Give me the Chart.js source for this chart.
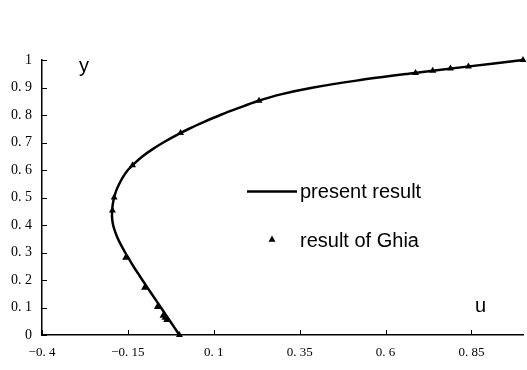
<!DOCTYPE html>
<html>
<head>
<meta charset="utf-8">
<script src="https://cdn.jsdelivr.net/npm/chart.js@4/dist/chart.umd.min.js"></script>
<style>
  html, body { margin: 0; padding: 0; background: #fff; }
  #wrap { width: 527px; height: 370px; }
</style>
</head>
<body>
<div id="wrap"><canvas id="c" width="527" height="370"></canvas></div>
<script>
// Centre-line u velocity profile (u along x, height y)
const presentY = [0.00, 0.05, 0.10, 0.15, 0.20, 0.225, 0.25, 0.275, 0.30, 0.325, 0.35, 0.375, 0.40, 0.425, 0.45, 0.475, 0.50, 0.525, 0.55, 0.575, 0.60, 0.625, 0.65, 0.675, 0.70, 0.725, 0.75, 0.775, 0.80, 0.825, 0.85, 0.875, 0.90, 0.925, 0.95, 0.975, 1.00];
const presentU = [0.000, -0.027, -0.054, -0.081, -0.108, -0.121, -0.134, -0.146, -0.158, -0.169, -0.179, -0.187, -0.193, -0.196, -0.196, -0.194, -0.190, -0.184, -0.175, -0.164, -0.150, -0.130, -0.107, -0.079, -0.047, -0.011, 0.028, 0.072, 0.119, 0.171, 0.226, 0.295, 0.390, 0.515, 0.667, 0.831, 1.000];

const ghiaY = [1.0000, 0.9766, 0.9688, 0.9609, 0.9531, 0.8516, 0.7344, 0.6172, 0.5000, 0.4531, 0.2813, 0.1719, 0.1016, 0.0703, 0.0625, 0.0547, 0.0000];
const ghiaU = [1.00000, 0.84123, 0.78871, 0.73722, 0.68717, 0.23151, 0.00332, -0.13641, -0.190, -0.195, -0.15662, -0.10150, -0.06434, -0.04775, -0.04192, -0.03717, 0.00000];

const xTickValues = [-0.4, -0.15, 0.1, 0.35, 0.6, 0.85];
const xTickLabels = ['\u22120. 4', '\u22120. 15', '0. 1', '0. 35', '0. 6', '0. 85'];
const yTickValues = [0, 0.1, 0.2, 0.3, 0.4, 0.5, 0.6, 0.7, 0.8, 0.9, 1];
const yTickLabels = ['0', '0. 1', '0. 2', '0. 3', '0. 4', '0. 5', '0. 6', '0. 7', '0. 8', '0. 9', '1'];

const seriesNames = ['present result', 'result of Ghia'];
const axisNames = { x: 'u', y: 'y' };

const presentData = presentY.map((y, i) => ({ x: presentU[i], y }));
const ghiaData = ghiaY.map((y, i) => ({ x: ghiaU[i], y }));

const xTickFont = { family: '"Liberation Serif", "DejaVu Serif", serif', size: 13 };
const yTickFont = { family: '"Liberation Serif", "DejaVu Serif", serif', size: 14 };
const textFont = '20px "Liberation Sans", Arial, sans-serif';

// Short tick marks pointing into the plot area
const innerTicks = {
  id: 'innerTicks',
  afterDraw(chart) {
    const ctx = chart.ctx;
    const xs = chart.scales.x, ys = chart.scales.y;
    const area = chart.chartArea;
    ctx.save();
    ctx.strokeStyle = '#000';
    ctx.lineWidth = 1;
    xTickValues.forEach(v => {
      const px = Math.round(xs.getPixelForValue(v)) + 0.5;
      ctx.beginPath();
      ctx.moveTo(px, area.bottom);
      ctx.lineTo(px, area.bottom - 5);
      ctx.stroke();
    });
    yTickValues.forEach(v => {
      const py = Math.round(ys.getPixelForValue(v)) + 0.5;
      ctx.beginPath();
      ctx.moveTo(area.left, py);
      ctx.lineTo(area.left + 5, py);
      ctx.stroke();
    });
    ctx.restore();
  }
};

// Axis names and the legend box drawn inside the plot
const annotations = {
  id: 'annotations',
  afterDraw(chart) {
    const ctx = chart.ctx;
    ctx.save();
    ctx.fillStyle = '#000';
    ctx.font = textFont;
    ctx.textAlign = 'left';
    ctx.textBaseline = 'alphabetic';
    ctx.fillText(axisNames.y, 79, 72);
    ctx.fillText(axisNames.x, 475, 312);

    const lineDs = chart.data.datasets[0];
    const ptDs = chart.data.datasets[1];
    // line sample
    ctx.strokeStyle = lineDs.borderColor;
    ctx.lineWidth = lineDs.borderWidth;
    ctx.beginPath();
    ctx.moveTo(247, 191.5);
    ctx.lineTo(297, 191.5);
    ctx.stroke();
    ctx.textBaseline = 'middle';
    ctx.fillText(lineDs.label, 300, 192);
    // marker sample
    ctx.beginPath();
    const cx = 272, cy = 239, r = 3.5;
    ctx.moveTo(cx, cy - r);
    ctx.lineTo(cx + r, cy + r * 0.8);
    ctx.lineTo(cx - r, cy + r * 0.8);
    ctx.closePath();
    ctx.fillStyle = ptDs.backgroundColor;
    ctx.fill();
    ctx.fillStyle = '#000';
    ctx.fillText(ptDs.label, 300, 241);
    ctx.restore();
  }
};

new Chart(document.getElementById('c'), {
  type: 'scatter',
  data: {
    datasets: [
      {
        label: seriesNames[0],
        data: presentData,
        showLine: true,
        borderColor: '#000',
        borderWidth: 2.5,
        pointRadius: 0,
        tension: 0.3,
        fill: false,
        clip: false
      },
      {
        label: seriesNames[1],
        data: ghiaData,
        showLine: false,
        pointStyle: 'triangle',
        pointRadius: 4,
        backgroundColor: '#000',
        borderColor: '#000',
        borderWidth: 0,
        clip: false
      }
    ]
  },
  options: {
    responsive: false,
    animation: false,
    layout: { padding: { top: 60, right: 1, left: 0, bottom: 0 } },
    plugins: { legend: { display: false }, tooltip: { enabled: false } },
    scales: {
      x: {
        type: 'linear',
        min: -0.4,
        max: 1.0,
        afterBuildTicks(scale) { scale.ticks = xTickValues.map(v => ({ value: v })); },
        afterFit(scale) { scale.height = 35; },
        grid: { display: false, drawTicks: false },
        border: { display: true, color: '#000', width: 1.5 },
        ticks: {
          padding: 10,
          color: '#000',
          font: xTickFont,
          maxRotation: 0,
          autoSkip: false,
          callback: (v) => { const i = xTickValues.findIndex(t => Math.abs(t - v) < 1e-9); return i >= 0 ? xTickLabels[i] : ''; }
        }
      },
      y: {
        type: 'linear',
        min: 0,
        max: 1,
        afterBuildTicks(scale) { scale.ticks = yTickValues.map(v => ({ value: v })); },
        afterFit(scale) { scale.width = 42; },
        grid: { display: false, drawTicks: false },
        border: { display: true, color: '#000', width: 1.5 },
        ticks: {
          padding: 10,
          color: '#000',
          font: yTickFont,
          autoSkip: false,
          callback: (v) => { const i = yTickValues.findIndex(t => Math.abs(t - v) < 1e-9); return i >= 0 ? yTickLabels[i] : ''; }
        }
      }
    }
  },
  plugins: [innerTicks, annotations]
});
</script>
</body>
</html>
